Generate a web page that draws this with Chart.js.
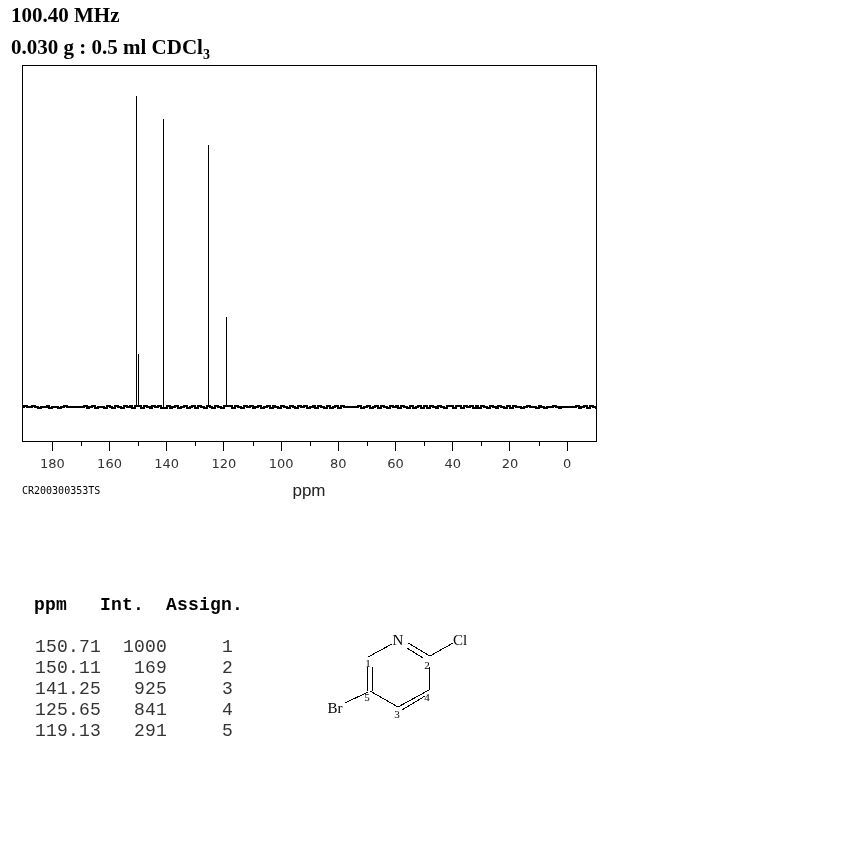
<!DOCTYPE html>
<html>
<head>
<meta charset="utf-8">
<title>100.40 MHz</title>
<script src="https://cdn.jsdelivr.net/npm/chart.js@4"></script>
<style>
    html, body { margin: 0; padding: 0; background: #fff; }
    #page { position: relative; width: 850px; height: 850px; overflow: hidden; }
    #myChart { position: absolute; left: 0; top: 0; }
    .head { position: absolute; left: 11px; font: bold 21px "Liberation Serif", serif; color: #000; white-space: nowrap; }
    .head sub { font-size: 14px; line-height: 0; }
    #code { position: absolute; left: 22px; top: 485px; font: 10px "DejaVu Sans Mono", monospace; color: #000; }
    pre { position: absolute; margin: 0; font-family: "Liberation Mono", monospace; font-size: 18px; letter-spacing: 0.2px; }
    #tableHead { left: 34px; top: 595px; font-weight: bold; color: #000; }
    #tableRows { left: 35px; top: 637px; line-height: 21px; color: #333; }
    #mol { position: absolute; left: 320px; top: 625px; }
    #mol line { stroke: #000; stroke-width: 1; shape-rendering: crispEdges; }
    #mol text { font-family: "Liberation Serif", serif; fill: #000; text-anchor: middle; }
</style>
</head>
<body>
<div id="page">
    <canvas id="myChart" width="850" height="850"></canvas>
    <div class="head" style="top: 3px;">100.40 MHz</div>
    <div class="head" style="top: 35px;">0.030 g : 0.5 ml CDCl<sub>3</sub></div>
    <div id="code">CR200300353TS</div>
    <pre id="tableHead"></pre>
    <pre id="tableRows"></pre>
    <svg id="mol" width="160" height="105" viewBox="320 625 160 105">
        <line x1="392" y1="644" x2="368" y2="657"></line>
        <line x1="367" y1="667" x2="367" y2="691"></line>
        <line x1="372" y1="667" x2="372" y2="691"></line>
        <line x1="370" y1="691" x2="398" y2="707"></line>
        <line x1="368" y1="692" x2="345" y2="703"></line>
        <line x1="398" y1="707" x2="429" y2="690"></line>
        <line x1="402" y1="710" x2="425" y2="696"></line>
        <line x1="429" y1="690" x2="429" y2="667"></line>
        <line x1="430" y1="656" x2="408" y2="643"></line>
        <line x1="423" y1="658" x2="407" y2="648"></line>
        <line x1="430" y1="656" x2="453" y2="643"></line>
        <text x="398" y="645" font-size="15">N</text>
        <text x="460" y="645" font-size="15">Cl</text>
        <text x="335" y="713" font-size="15">Br</text>
        <text x="368" y="667" font-size="11">1</text>
        <text x="427" y="669" font-size="11">2</text>
        <text x="397" y="718" font-size="11">3</text>
        <text x="427" y="701" font-size="11">4</text>
        <text x="367" y="701" font-size="11">5</text>
    </svg>
</div>
<script>
// peak table
const peakPpm = [150.71, 150.11, 141.25, 125.65, 119.13];
const peakInt = [1000, 169, 925, 841, 291];
const peakAssign = [1, 2, 3, 4, 5];

// axis labels
const majorTicks = [180, 160, 140, 120, 100, 80, 60, 40, 20, 0];
const minorTicks = [170, 150, 130, 110, 90, 70, 50, 30, 10];

// baseline
const noisePpm = [
    191, 190, 189, 188, 187, 186, 185, 184, 183, 182, 181, 180, 179, 178, 177, 176, 175, 174, 173, 172, 171,
    170, 169, 168, 167, 166, 165, 164, 163, 162, 161, 160, 159, 158, 157, 156, 155, 154, 153, 152, 151,
    149, 148, 147, 146, 145, 144, 143, 142, 140, 139, 138, 137, 136, 135, 134, 133, 132, 131, 130, 129,
    128, 127, 126, 125, 124, 123, 122, 121, 120, 118, 117, 116, 115, 114, 113, 112, 111, 110, 109, 108,
    107, 106, 105, 104, 103, 102, 101, 100, 99, 98, 97, 96, 95, 94, 93, 92, 91, 90, 89, 88,
    87, 86, 85, 84, 83, 82, 81, 80, 79, 78, 74, 73, 72, 71, 70, 69, 68, 67, 66, 65,
    64, 63, 62, 61, 60, 59, 58, 57, 56, 55, 54, 53, 52, 51, 50, 49, 48, 47, 46, 45,
    44, 43, 42, 41, 40, 39, 38, 37, 36, 35, 34, 33, 32, 31, 30, 29, 28, 27, 26, 25,
    24, 23, 22, 21, 20, 19, 18, 17, 16, 15, 14, 13, 12, 11, 10, 9, 8, 7, 6, 5,
    4, 3, 2, -2, -3, -4, -5, -6, -7, -8, -9, -10, -11
];
const noiseInt = [
    0, 2, 0, 0, 3, 0, -3, 0, 0, 3, -2, 0, 0, -3, 0, 2, 0, 0, 0, 0, 0,
    0, 3, -3, 0, 3, -3, 0, 0, -3, 3, 0, -3, 3, 0, -3, 3, 0, 3, -3, 3,
    -3, 3, 0, -3, 3, 0, 3, -3, 3, -3, 0, 3, -3, 0, 3, -3, 0, 3, -3, 3,
    0, -3, 3, 0, -3, 3, 0, -3, 3, 3, -3, 3, 0, -3, 3, 0, 3, -3, 0, 3,
    -3, 0, 3, -3, 3, 0, -3, 3, 0, -3, 3, 0, -3, 3, 0, 3, -3, 0, 3, -3,
    3, 0, -3, 3, -3, 0, 3, -3, 3, 0, 0, 3, -3, 0, 3, -3, 0, 3, -3, 3,
    0, -3, 3, 0, 3, -3, 3, 0, -3, 3, -3, 0, 3, -3, 3, -3, 3, 0, -3, 3,
    0, -3, 3, 3, -3, 3, 3, -3, 3, 0, 3, -3, 3, -3, 3, 0, -3, 3, 0, -3,
    3, 0, -3, 3, -3, 3, 0, 0, -3, 0, 3, 0, 0, -3, 3, 0, -3, 0, 0, 3,
    0, -3, 0, 0, 3, -3, 0, 3, -3, 3, 0, -3, 0
];

// peaks as sticks, NaN breaks the line between them
const stickData = [];
for (let i = 0; i < peakPpm.length; i++) {
    stickData.push({ x: peakPpm[i], y: 0 });
    stickData.push({ x: peakPpm[i], y: peakInt[i] });
    stickData.push({ x: peakPpm[i], y: NaN });
}

const noiseData = [];
for (let i = 0; i < noisePpm.length; i++) {
    noiseData.push({ x: noisePpm[i], y: noiseInt[i] });
}

// the reference is aliased, so snap what the scales gave to whole pixels
const snapToPixels = {
    id: 'snapToPixels',
    afterDatasetsUpdate(chart) {
        chart.getDatasetMeta(0).data.forEach(p => {
            p.x = Math.round(p.x) + 0.5;
            p.y = Math.round(p.y);
        });
        chart.getDatasetMeta(1).data.forEach(p => {
            p.x = Math.round(p.x);
            p.y = Math.round(p.y);
        });
    }
};

const boxAndMinorTicks = {
    id: 'boxAndMinorTicks',
    afterDraw(chart) {
        let ctx = chart.ctx;
        let area = chart.chartArea;
        let x = chart.scales.x;
        ctx.save();
        ctx.strokeStyle = '#000';
        ctx.lineWidth = 1;
        ctx.strokeRect(area.left + 0.5, area.top + 0.5, area.right - area.left, area.bottom - area.top);
        ctx.beginPath();
        for (let i = 0; i < minorTicks.length; i++) {
            let px = Math.round(x.getPixelForValue(minorTicks[i])) + 0.5;
            ctx.moveTo(px, area.bottom);
            ctx.lineTo(px, area.bottom + 5);
        }
        ctx.stroke();
        ctx.restore();
    }
};

// table text
document.getElementById('tableHead').textContent = 'ppm   Int.  Assign.';
let rows = [];
for (let i = 0; i < peakPpm.length; i++) {
    rows.push(peakPpm[i].toFixed(2) + String(peakInt[i]).padStart(6) + String(peakAssign[i]).padStart(6));
}
document.getElementById('tableRows').textContent = rows.join('\n');

let ctx = document.getElementById('myChart').getContext('2d');
let myChart = new Chart(ctx, {
    type: 'scatter',
    data: {
        datasets: [
            {
                label: 'peaks',
                data: stickData,
                showLine: true,
                spanGaps: false,
                borderColor: '#000',
                borderWidth: 1,
                borderCapStyle: 'butt',
                pointRadius: 0,
            },
            {
                label: 'baseline',
                data: noiseData,
                showLine: true,
                stepped: true,
                borderColor: '#000',
                borderWidth: 2,
                borderJoinStyle: 'miter',
                pointRadius: 0,
            },
        ],
    },
    options: {
        responsive: false,
        animation: false,
        devicePixelRatio: 1,
        layout: { padding: { left: 22, top: 65, right: 254, bottom: 348 } },
        plugins: { legend: { display: false }, tooltip: { enabled: false } },
        scales: {
            x: {
                type: 'linear',
                reverse: true,
                min: -10.1,
                max: 190.6,
                afterBuildTicks: (scale) => {
                    scale.ticks = majorTicks.map(v => ({ value: v }));
                },
                afterFit: (scale) => {
                    scale.height = 61;
                },
                border: { display: false },
                grid: {
                    drawOnChartArea: false,
                    tickLength: 10,
                    tickColor: '#000',
                    tickWidth: 1,
                },
                ticks: {
                    autoSkip: false,
                    maxRotation: 0,
                    padding: 6,
                    color: '#333',
                    font: { family: '"DejaVu Sans"', size: 13 },
                },
                title: {
                    display: true,
                    text: 'ppm',
                    color: '#222',
                    font: { family: '"Liberation Sans"', size: 17 },
                    padding: 0,
                },
            },
            y: {
                display: false,
                min: -109.3,
                max: 1099.7,
            },
        },
    },
    plugins: [snapToPixels, boxAndMinorTicks],
});
</script>
</body>
</html>
